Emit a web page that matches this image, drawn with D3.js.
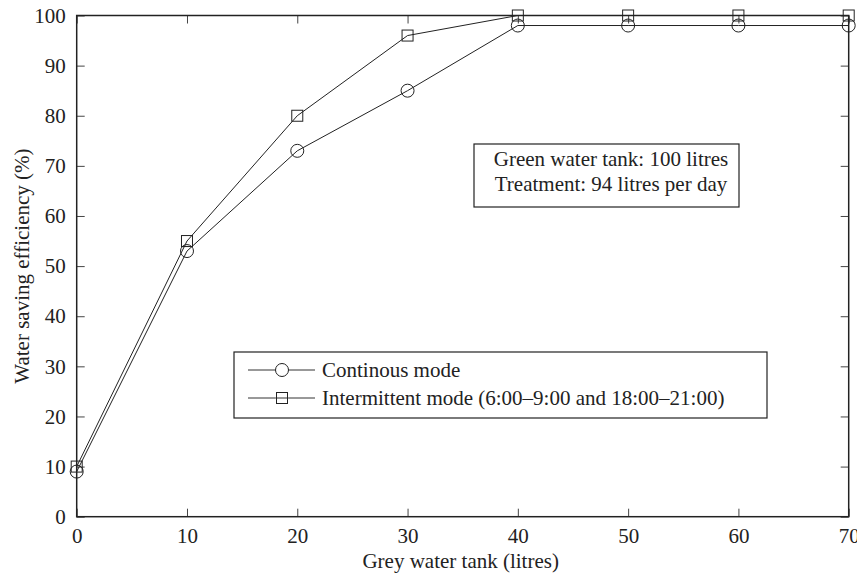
<!DOCTYPE html>
<html lang="en">
<head>
    <meta charset="UTF-8">
    <title>Water saving efficiency</title>
    <script src="https://d3js.org/d3.v7.min.js"></script>
    <style>
        body { margin: 0; background: #fff; }
        text { font-family: "Liberation Serif", "Times New Roman", serif; fill: #222; }
    </style>
</head>
<body>
    <div id="chart"></div>
    <script>
        // values
        const tankSizes = [0, 10, 20, 30, 40, 50, 60, 70];
        const continuous = [9, 53, 73, 85, 98, 98, 98, 98];
        const intermittent = [10, 55, 80, 96, 100, 100, 100, 100];
        const xTicks = [0, 10, 20, 30, 40, 50, 60, 70];
        const yTicks = [0, 10, 20, 30, 40, 50, 60, 70, 80, 90, 100];
        const seriesNames = ["Continous mode", "Intermittent mode (6:00\u20139:00 and 18:00\u201321:00)"];
        const noteLines = ["Green water tank: 100 litres", "Treatment: 94 litres per day"];

        const W = 857, H = 574;
        const margin = { top: 15.5, right: 8.3, bottom: 57.3, left: 76.7 };
        const width = W - margin.left - margin.right;
        const height = H - margin.top - margin.bottom;
        const fs = 21;

        const svg = d3.select("#chart").append("svg")
            .attr("width", W).attr("height", H);
        const g = svg.append("g")
            .attr("transform", `translate(${margin.left},${margin.top})`);

        const x = d3.scaleLinear().domain([0, 70]).range([0, width]);
        const y = d3.scaleLinear().domain([0, 100]).range([height, 0]);

        // ticks on all four sides, pointing inward
        const tickLen = 8;
        g.append("g").attr("transform", `translate(0,${height})`)
            .call(d3.axisBottom(x).tickValues(xTicks).tickSizeInner(-tickLen).tickSizeOuter(0).tickPadding(11))
            .call(a => a.select(".domain").remove())
            .call(a => a.selectAll("text").attr("font-size", fs).attr("font-family", "Liberation Serif").attr("fill", "#222"));
        g.append("g")
            .call(d3.axisLeft(y).tickValues(yTicks).tickSizeInner(-tickLen).tickSizeOuter(0).tickPadding(11))
            .call(a => a.select(".domain").remove())
            .call(a => a.selectAll("text").attr("font-size", fs).attr("font-family", "Liberation Serif").attr("fill", "#222"));
        g.append("g")
            .call(d3.axisTop(x).tickValues(xTicks).tickSizeInner(-tickLen).tickSizeOuter(0).tickFormat(""))
            .call(a => a.select(".domain").remove());
        g.append("g").attr("transform", `translate(${width},0)`)
            .call(d3.axisRight(y).tickValues(yTicks).tickSizeInner(-tickLen).tickSizeOuter(0).tickFormat(""))
            .call(a => a.select(".domain").remove());
        g.selectAll(".tick line").attr("stroke", "#444").attr("stroke-width", 1);

        // frame
        g.append("rect").attr("width", width).attr("height", height)
            .attr("fill", "none").attr("stroke", "#222").attr("stroke-width", 1.5);

        const series = [
            { name: seriesNames[0], vals: continuous, shape: "circle" },
            { name: seriesNames[1], vals: intermittent, shape: "square" }
        ];

        const line = d3.line().x((d, i) => x(tankSizes[i])).y(d => y(d));

        function marker(sel, shape, cx, cy) {
            if (shape === "circle") {
                sel.append("circle").attr("cx", cx).attr("cy", cy).attr("r", 6.5)
                    .attr("fill", "none").attr("stroke", "#222").attr("stroke-width", 1);
            } else {
                sel.append("rect").attr("x", cx - 5.5).attr("y", cy - 5.5)
                    .attr("width", 11).attr("height", 11)
                    .attr("fill", "none").attr("stroke", "#222").attr("stroke-width", 1);
            }
        }

        series.forEach(s => {
            g.append("path").datum(s.vals).attr("d", line)
                .attr("fill", "none").attr("stroke", "#222").attr("stroke-width", 1);
            const mg = g.append("g");
            s.vals.forEach((v, i) => marker(mg, s.shape, x(tankSizes[i]), y(v)));
        });

        // axis titles
        svg.append("text")
            .attr("x", margin.left + width / 2 - 2).attr("y", 568)
            .attr("text-anchor", "middle").attr("font-size", fs)
            .text("Grey water tank (litres)");
        svg.append("text")
            .attr("transform", `translate(29,${margin.top + height / 2}) rotate(-90)`)
            .attr("text-anchor", "middle").attr("font-size", fs)
            .text("Water saving efficiency (%)");

        // note box
        svg.append("rect").attr("x", 474).attr("y", 144).attr("width", 265).attr("height", 63)
            .attr("fill", "#fff").attr("stroke", "#222").attr("stroke-width", 1.2);
        noteLines.forEach((t, i) => {
            svg.append("text").attr("x", 611).attr("y", 165.5 + i * 25)
                .attr("text-anchor", "middle").attr("font-size", fs).text(t);
        });

        // legend
        svg.append("rect").attr("x", 234).attr("y", 352).attr("width", 533).attr("height", 66)
            .attr("fill", "#fff").attr("stroke", "#222").attr("stroke-width", 1.2);
        series.forEach((s, i) => {
            const ly = 370 + i * 28;
            const lg = svg.append("g");
            lg.append("line").attr("x1", 248).attr("x2", 275.5).attr("y1", ly).attr("y2", ly)
                .attr("stroke", "#333").attr("stroke-width", 1);
            lg.append("line").attr("x1", 288.5).attr("x2", 315).attr("y1", ly).attr("y2", ly)
                .attr("stroke", "#333").attr("stroke-width", 1);
            if (s.shape === "square") {
                lg.append("line").attr("x1", 275.5).attr("x2", 288.5).attr("y1", ly).attr("y2", ly)
                    .attr("stroke", "#333").attr("stroke-width", 1);
            }
            marker(lg, s.shape, 282, ly);
            lg.append("text").attr("x", 322).attr("y", ly + 7).attr("font-size", fs).text(s.name);
        });
    </script>
</body>
</html>
